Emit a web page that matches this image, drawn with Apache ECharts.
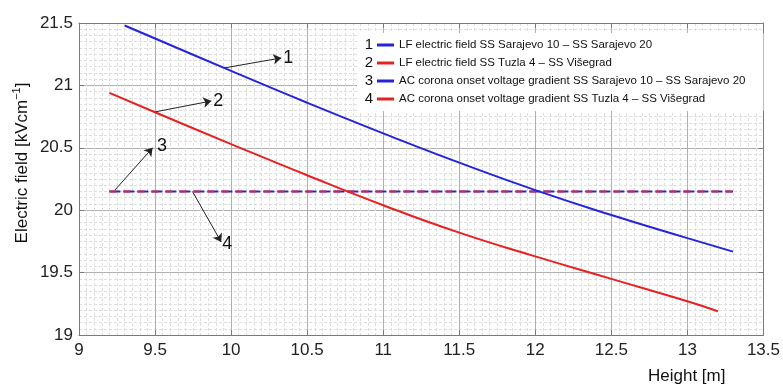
<!DOCTYPE html>
<html>
<head>
<meta charset="utf-8">
<script src="https://cdn.jsdelivr.net/npm/echarts@6/dist/echarts.min.js"></script>
<style>
html, body { margin: 0; padding: 0; background: #fff; }
#chart { width: 783px; height: 385px; }
</style>
</head>
<body>
<div id="chart"></div>
<script>
// LF electric field vs conductor height
const sarajevoX = [9.3, 9.5, 10, 10.5, 11, 11.5, 12, 12.5, 13, 13.3];
const sarajevoY = [21.48, 21.376, 21.116, 20.861, 20.616, 20.381, 20.161, 19.961, 19.776, 19.668];
const tuzlaX = [9.2, 9.5, 10, 10.5, 11, 11.5, 12, 12.5, 13, 13.2];
const tuzlaY = [20.94, 20.785, 20.53, 20.28, 20.04, 19.82, 19.63, 19.45, 19.27, 19.19];
// corona onset gradient (flat)
const coronaX = [9.2, 13.3];
const coronaSarajevo = [20.15, 20.15];
const coronaTuzla = [20.15, 20.15];

const seriesNames = [
    'LF electric field SS Sarajevo 10 \u2013 SS Sarajevo 20',
    'LF electric field SS Tuzla 4 \u2013 SS Vi\u0161egrad',
    'AC corona onset voltage gradient SS Sarajevo 10 \u2013 SS Sarajevo 20',
    'AC corona onset voltage gradient SS Tuzla 4 \u2013 SS Vi\u0161egrad'
];
const legendNumbers = ['1', '2', '3', '4'];

// arrows: [fromX, fromY, toX, toY, label]
const arrows = [
    [9.955, 21.14, 10.33, 21.22, '1'],
    [9.497, 20.787, 9.87, 20.875, '2'],
    [9.235, 20.16, 9.484, 20.50, '3'],
    [9.746, 20.15, 9.935, 19.745, '4']
];
// nudges for the arrow numbers
const arrowLabels = [
    {},
    {},
    { padding: [0, 0, 6, 16] },
    { padding: [0, 0, 0, 10], verticalAlign: 'middle' }
];

const BLUE = '#2424dc';
const RED = '#e82020';
const FONT = 'Liberation Sans, Arial, sans-serif';

function pairs(xs, ys) {
    return xs.map(function (x, i) { return [x, ys[i]]; });
}

var chart = echarts.init(document.getElementById('chart'));

var frameAxis = {
    axisLine: { show: true, onZero: false, lineStyle: { color: '#7a7a7a', width: 1 } },
    axisTick: { show: true, inside: true, length: 5, lineStyle: { color: '#7a7a7a' } }
};

const option = {
    animation: false,
    grid: { left: 79, right: 16, top: 23, bottom: 50 },
    xAxis: [
        Object.assign({
            type: 'value',
            min: 9,
            max: 13.5,
            interval: 0.5,
            axisLabel: { color: '#222', fontSize: 17, fontFamily: FONT, margin: 7 },
            splitLine: { show: true, lineStyle: { color: '#b0b0b0' } },
            minorTick: { show: false, splitNumber: 10 },
            minorSplitLine: { show: true, lineStyle: { color: '#dedede', type: [3, 2] } }
        }, frameAxis),
        Object.assign({
            type: 'value', position: 'top', min: 9, max: 13.5, interval: 0.5,
            axisLabel: { show: false }, splitLine: { show: false }
        }, frameAxis)
    ],
    yAxis: [
        Object.assign({
            type: 'value',
            min: 19,
            max: 21.5,
            interval: 0.5,
            axisLabel: { color: '#222', fontSize: 17, fontFamily: FONT, margin: 6 },
            splitLine: { show: true, lineStyle: { color: '#b0b0b0' } },
            minorTick: { show: false, splitNumber: 10 },
            minorSplitLine: { show: true, lineStyle: { color: '#dedede', type: [3, 2] } }
        }, frameAxis),
        Object.assign({
            type: 'value', position: 'right', min: 19, max: 21.5, interval: 0.5,
            axisLabel: { show: false }, splitLine: { show: false }
        }, frameAxis)
    ],
    legend: {
        data: seriesNames,
        orient: 'vertical',
        left: 357,
        top: 33,
        padding: [5, 18, 5, 20],
        backgroundColor: '#fff',
        icon: 'rect',
        itemWidth: 17,
        itemHeight: 3,
        itemGap: 4,
        selectedMode: false,
        textStyle: { fontSize: 11.5, color: '#111', fontFamily: FONT, lineHeight: 14 }
    },
    graphic: [
        {
            type: 'text', x: 22, y: 163, rotation: Math.PI / 2,
            style: {
                text: 'Electric field [kVcm{sup|\u22121}]',
                fill: '#111', fontSize: 17, fontFamily: FONT,
                align: 'center', verticalAlign: 'middle',
                rich: { sup: { fontSize: 11, fontFamily: FONT, fill: '#111', padding: [0, 0, 10, 0] } }
            }
        },
        {
            type: 'text', left: 648, top: 368,
            style: { text: 'Height [m]', fill: '#111', fontSize: 17, fontFamily: FONT }
        }
    ].concat(legendNumbers.map(function (n, i) {
        return {
            type: 'text', x: 369, y: 45 + i * 18, z: 100,
            style: { text: n, fill: '#111', fontSize: 15, fontFamily: FONT, align: 'center', verticalAlign: 'middle' }
        };
    })),
    series: [
        {
            name: seriesNames[0],
            type: 'line',
            color: BLUE,
            data: pairs(sarajevoX, sarajevoY),
            showSymbol: false,
            smooth: true,
            lineStyle: { color: BLUE, width: 2 },
            z: 5,
            markLine: {
                silent: true,
                symbol: ['none', 'arrow'],
                symbolSize: 8,
                lineStyle: { color: '#222', width: 1, type: 'solid' },
                label: { show: true, position: 'end', formatter: '{b}', fontSize: 18, color: '#111', fontFamily: FONT, distance: 2 },
                data: arrows.map(function (a, i) {
                    return [
                        { coord: [a[0], a[1]], name: a[4], label: arrowLabels[i] },
                        { coord: [a[2], a[3]] }
                    ];
                })
            }
        },
        {
            name: seriesNames[1],
            type: 'line',
            color: RED,
            data: pairs(tuzlaX, tuzlaY),
            showSymbol: false,
            smooth: true,
            lineStyle: { color: RED, width: 2 },
            z: 5
        },
        {
            name: seriesNames[2],
            type: 'line',
            color: BLUE,
            data: pairs(coronaX, coronaSarajevo),
            showSymbol: false,
            lineStyle: { color: BLUE, width: 2, type: [11, 3] },
            z: 3
        },
        {
            name: seriesNames[3],
            type: 'line',
            color: RED,
            data: pairs(coronaX, coronaTuzla),
            showSymbol: false,
            lineStyle: { color: RED, width: 2, type: [7, 7] },
            z: 4
        }
    ]
};

chart.setOption(option);
window.addEventListener('resize', function () {
    chart.resize();
});
</script>
</body>
</html>
